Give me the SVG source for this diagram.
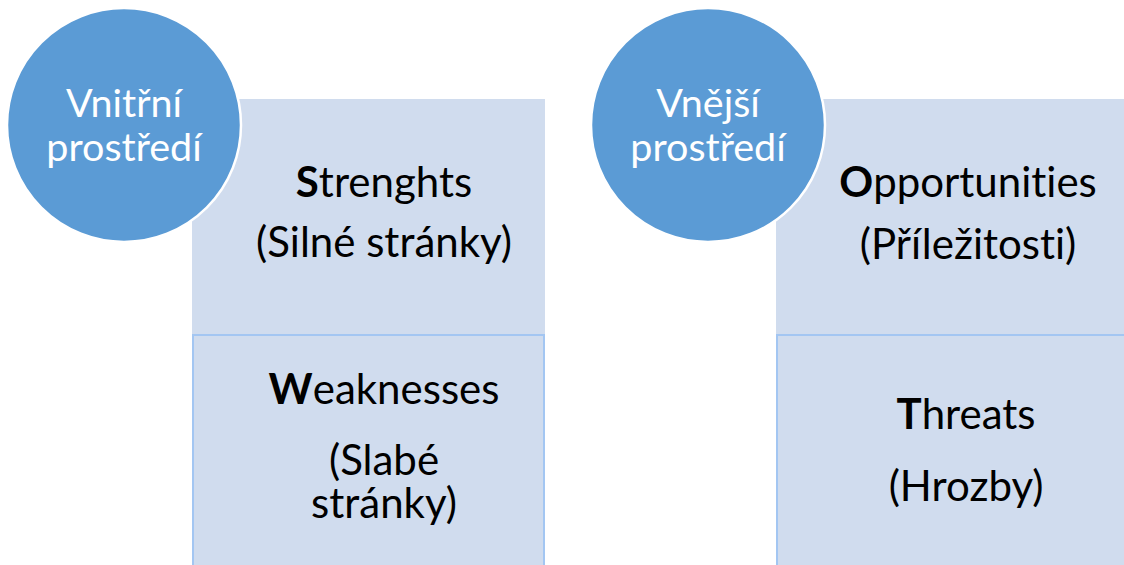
<svg xmlns="http://www.w3.org/2000/svg" width="1124" height="565" viewBox="0 0 1124 565">
  <style>
    .box { fill: #D0DCEE; }
    .boxb { fill: #D0DCEE; stroke: #A3C6F2; stroke-width: 2; }
    .circ { fill: #5B9BD5; stroke: #FFFFFF; stroke-width: 2.5; }
    text { font-variant-ligatures: none; }
    .ct { font-family: Lato, "Open Sans", sans-serif; font-size: 39.5px; fill: #FFFFFF; text-anchor: middle; }
    .bt { font-family: Lato, "Open Sans", sans-serif; font-size: 42px; fill: #000000; text-anchor: middle; }
    .b { font-weight: bold; }
  </style>
  <rect width="1124" height="565" fill="#FFFFFF"/>

  <!-- internal environment: strengths / weaknesses -->
  <g id="strengths">
    <rect class="box" x="192" y="99" width="353" height="236"/>
    <text class="bt" x="384" y="197"><tspan class="b">S</tspan>trenghts</text>
    <text class="bt" x="384" y="257">(Silné stránky)</text>
  </g>
  <g id="weaknesses">
    <rect class="boxb" x="193" y="335" width="351" height="235"/>
    <text class="bt" x="384" y="404"><tspan class="b">W</tspan>eaknesses</text>
    <!-- wrapped label: two lines in one text element -->
    <text class="bt"><tspan x="384" y="475">(Slabé</tspan><tspan x="384" y="518">stránky)</tspan></text>
  </g>
  <g id="internal">
    <circle class="circ" cx="124" cy="125" r="117"/>
    <text class="ct"><tspan x="124" y="117">Vnitřní</tspan><tspan x="124" y="161">prostředí</tspan></text>
  </g>

  <!-- external environment: opportunities / threats -->
  <g id="opportunities">
    <rect class="box" x="776" y="99" width="350" height="236"/>
    <text class="bt" x="968" y="197"><tspan class="b">O</tspan>pportunities</text>
    <text class="bt" x="968" y="259">(Příležitosti)</text>
  </g>
  <g id="threats">
    <rect class="boxb" x="777" y="335" width="350" height="235"/>
    <text class="bt" x="966" y="429"><tspan class="b">T</tspan>hreats</text>
    <text class="bt" x="966" y="501">(Hrozby)</text>
  </g>
  <g id="external">
    <circle class="circ" cx="708" cy="125" r="117"/>
    <text class="ct"><tspan x="708" y="117">Vnější</tspan><tspan x="708" y="161">prostředí</tspan></text>
  </g>

  <g id="connectors"/>
</svg>
